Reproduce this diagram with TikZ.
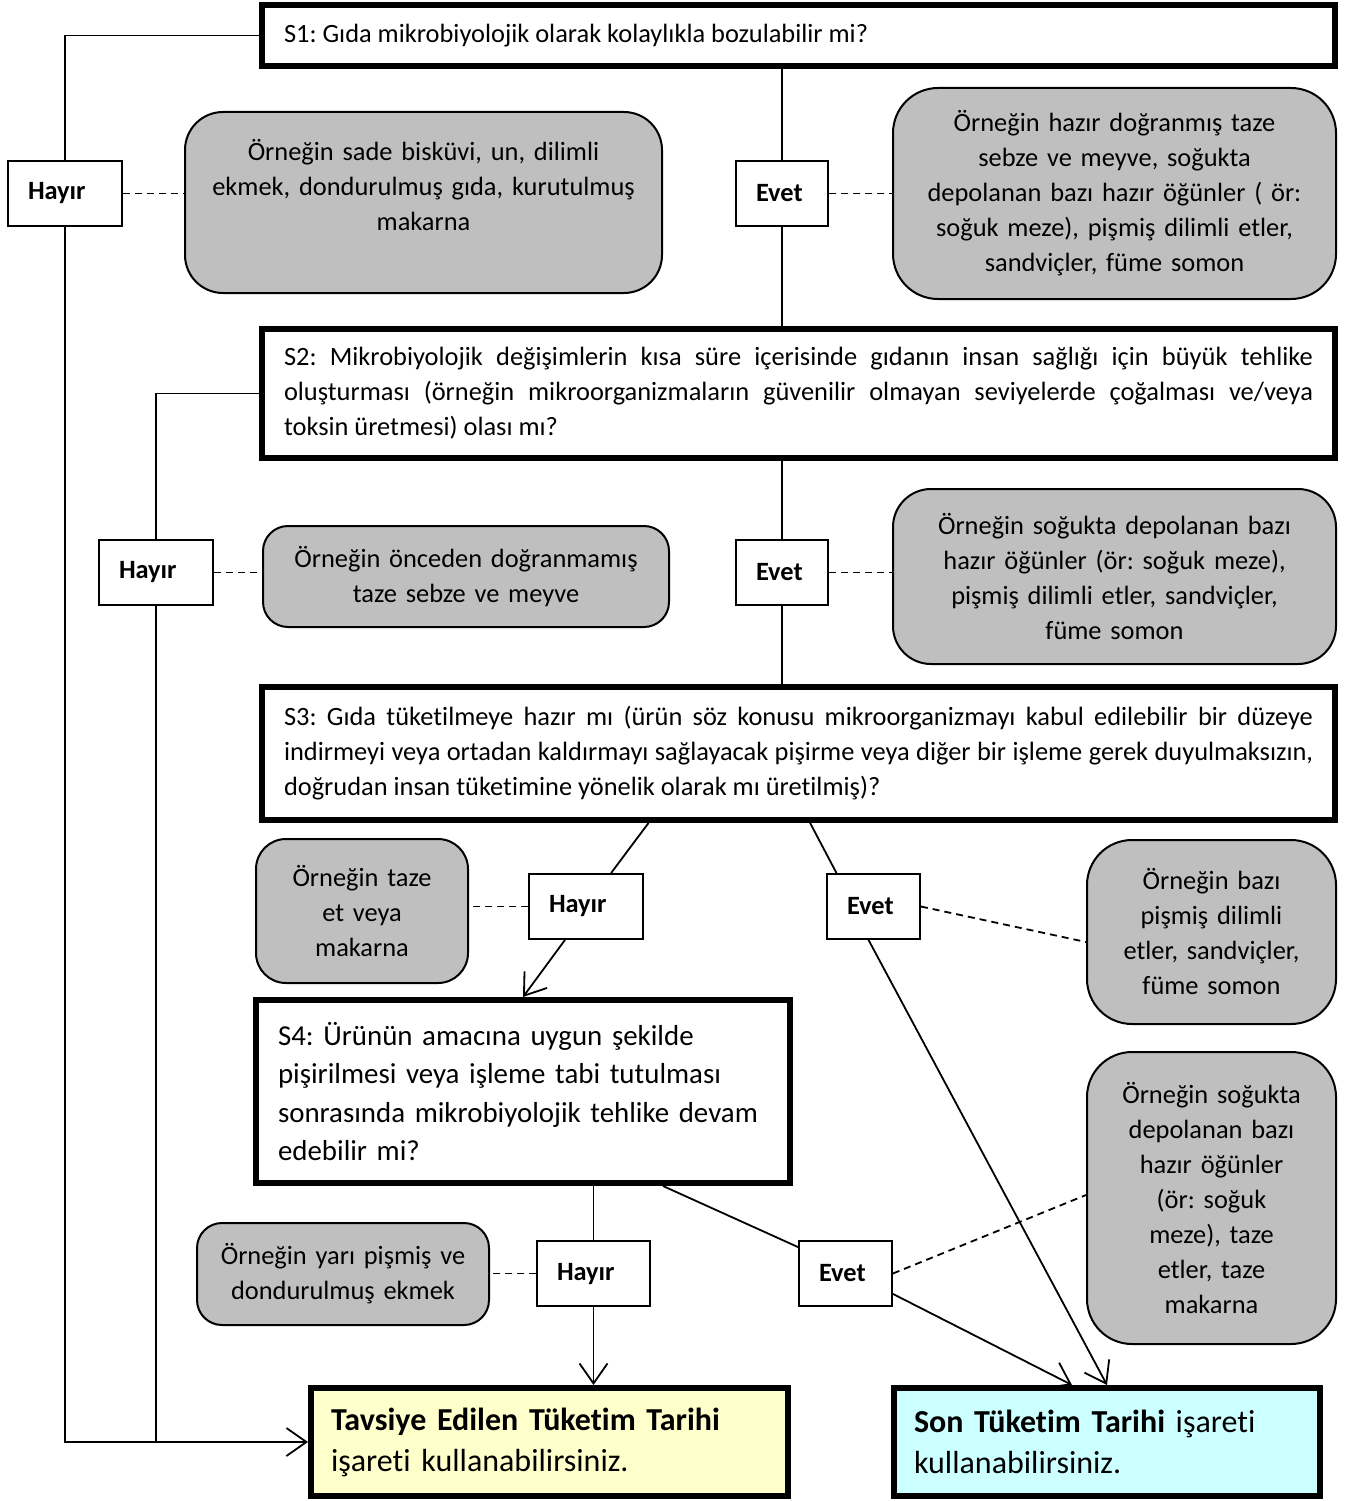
\documentclass[tikz,border=0pt]{standalone}
\usepackage{fontspec}
\setmainfont[Ligatures=NoCommon]{Carlito}
\usetikzlibrary{arrows.meta,calc}
\frenchspacing
\hyphenpenalty=10000
\exhyphenpenalty=10000
\definecolor{gri}{HTML}{BFBFBF}
\definecolor{sari}{HTML}{FFFFCC}
\definecolor{mavi}{HTML}{CCFFFF}
\tikzset{
	soru/.style={draw,line width=6pt,fill=white,inner xsep=22pt,inner ysep=0pt,align=justify,
		font=\fontsize{26.4pt}{35pt}\selectfont},
	cevap/.style={draw,line width=1.8pt,fill=white,minimum height=65pt,inner xsep=20pt,inner ysep=0pt,
		align=left,font=\fontsize{26.4pt}{35pt}\selectfont\bfseries},
	ornek/.style={draw,line width=2pt,fill=gri,rounded corners=38pt,inner sep=0pt,align=center,
		font=\fontsize{26.4pt}{35pt}\selectfont},
	sonuc/.style={draw,line width=6pt,inner xsep=20pt,inner ysep=0pt,align=left,
		font=\fontsize{32pt}{41pt}\selectfont},
	hat/.style={line width=1.8pt},
	kesik/.style={line width=1.8pt,dash pattern=on 7pt off 5pt},
	ok/.style={hat,-{Straight Barb[length=20pt,width=28pt]}},
}
\begin{document}
\begin{tikzpicture}[x=1pt,y=-1pt]
	\useasboundingbox (0,0) rectangle (1354,1501);
	\path
	(798.5,35.5) node[soru,minimum width=1073pt,minimum height=61pt,text width=1029pt] (S1)
	{S1: Gıda mikrobiyolojik olarak kolaylıkla bozulabilir mi?}          % <<< soru 1
	(798.5,393.5) node[soru,minimum width=1073pt,minimum height=129pt,text width=1029pt] (S2)
	{S2: Mikrobiyolojik değişimlerin kısa süre içerisinde gıdanın insan sağlığı için büyük tehlike\linebreak
		oluşturması (örneğin mikroorganizmaların güvenilir olmayan seviyelerde çoğalması ve/veya\linebreak
		toksin üretmesi) olası mı?}                                   % <<< soru 2
	(798.5,753.5) node[soru,minimum width=1073pt,minimum height=133pt,text width=1029pt] (S3)
	{S3: Gıda tüketilmeye hazır mı (ürün söz konusu mikroorganizmayı kabul edilebilir bir düzeye\linebreak
		indirmeyi veya ortadan kaldırmayı sağlayacak pişirme veya diğer bir işleme gerek duyulmaksızın,\linebreak
		doğrudan insan tüketimine yönelik olarak mı üretilmiş)?}      % <<< soru 3
	(523,1091.5) node[soru,align=left,minimum width=534pt,minimum height=183pt,text width=490pt,
	font=\fontsize{28.9pt}{38.5pt}\selectfont] (S4)
	{S4: Ürünün amacına uygun şekilde\\pişirilmesi veya işleme tabi tutulması\\
		sonrasında mikrobiyolojik tehlike devam\\edebilir mi?}        % <<< soru 4
	(549.5,1442) node[sonuc,fill=sari,minimum width=477pt,minimum height=108pt,text width=437pt] (T)
	{\textbf{Tavsiye Edilen Tüketim Tarihi}\\işareti kullanabilirsiniz.}
	(1107,1442) node[sonuc,fill=mavi,minimum width=426pt,minimum height=108pt,text width=386pt] (Son)
	{\textbf{Son Tüketim Tarihi} işareti\\kullanabilirsiniz.};
	% cevaplar
	\path
	(65,193.5) node[cevap,minimum width=114pt,text width=74pt] (H1) {Hayır}
	(782,193.5) node[cevap,minimum width=92pt,text width=52pt] (E1) {Evet}
	(156,572.5) node[cevap,minimum width=114pt,text width=74pt] (H2) {Hayır}
	(782,572.5) node[cevap,minimum width=92pt,text width=52pt] (E2) {Evet}
	(586,906.5) node[cevap,minimum width=114pt,text width=74pt] (H3) {Hayır}
	(873.5,906.5) node[cevap,minimum width=93pt,text width=53pt] (E3) {Evet}
	(593.5,1273.5) node[cevap,minimum width=113pt,text width=73pt] (H4) {Hayır}
	(845.5,1273.5) node[cevap,minimum width=93pt,text width=53pt] (E4) {Evet};
	% örnekler
	\path
	(423.5,202.5) node[ornek,minimum width=477pt,minimum height=181pt,text width=447pt] (G1)
	{Örneğin sade bisküvi, un, dilimli\\ekmek, dondurulmuş gıda, kurutulmuş\\makarna\\\mbox{}}
	(1114.5,193.5) node[ornek,rounded corners=45pt,minimum width=443pt,minimum height=211pt,text width=413pt] (G2)
	{Örneğin hazır doğranmış taze\\sebze ve meyve, soğukta\\depolanan bazı hazır öğünler ( ör:\\
		soğuk meze), pişmiş dilimli etler,\\sandviçler, füme somon}
	(466,576.5) node[ornek,rounded corners=25pt,minimum width=406pt,minimum height=101pt,text width=376pt] (G3)
	{Örneğin önceden doğranmamış\\taze sebze ve meyve}
	(1114.5,576.5) node[ornek,minimum width=443pt,minimum height=175pt,text width=413pt] (G4)
	{Örneğin soğukta depolanan bazı\\hazır öğünler (ör: soğuk meze),\\pişmiş dilimli etler, sandviçler,\\füme somon}
	(362,911) node[ornek,rounded corners=30pt,minimum width=212pt,minimum height=144pt,text width=182pt] (G5)
	{Örneğin taze\\et veya\\makarna}
	(1211.5,932) node[ornek,rounded corners=45pt,minimum width=249pt,minimum height=184pt,text width=219pt] (G6)
	{Örneğin bazı\\pişmiş dilimli\\etler, sandviçler,\\füme somon}
	(343,1274) node[ornek,rounded corners=25pt,minimum width=292pt,minimum height=102pt,text width=262pt] (G7)
	{Örneğin yarı pişmiş ve\\dondurulmuş ekmek}
	(1211.5,1198) node[ornek,rounded corners=45pt,minimum width=249pt,minimum height=292pt,text width=219pt] (G8)
	{Örneğin soğukta\\depolanan bazı\\hazır öğünler\\(ör: soğuk\\meze), taze\\etler, taze\\makarna};
	% hayır kolları
	\draw[hat] (S1.west) -| (H1.north);
	\draw[ok] (H1.south) |- (T.west);
	\draw[hat] (S2.west) -| (H2.north);
	\draw[hat] (H2.south) -- (H2.south |- T.west);
	% evet kolları
	\draw[hat] (E1.north |- S1.south) -- (E1.north);
	\draw[hat] (E1.south) -- (E1.south |- S2.north);
	\draw[hat] (E2.north |- S2.south) -- (E2.north);
	\draw[hat] (E2.south) -- (E2.south |- S3.north);
	\draw[hat] ($(S3.south)+(-150,0)$) -- ($(H3.north)+(25,0)$);
	\draw[ok] ($(H3.south)+(-21,0)$) -- (S4.north);
	\draw[hat] ($(S3.south)+(9,-5)$) -- ($(E3.north)+(-37,0)$);
	\draw[ok] ($(E3.south)+(-5,0)$) -- (Son.north);
	\draw[hat] (H4.north |- S4.south) -- (H4.north);
	\draw[ok] (H4.south) -- (H4.south |- T.north);
	\draw[hat] ($(S4.south)+(140,0)$) -- ($(E4.north west)+(0,7)$);
	\draw[ok] ($(E4.south east)+(0,-13)$) -- ($(Son.north)+(-35,0)$);
	% kesik çizgiler
	\draw[kesik] (H1.east) -- (H1.east -| G1.west);
	\draw[kesik] (E1.east) -- (E1.east -| G2.west);
	\draw[kesik] (H2.east) -- (H2.east -| G3.west);
	\draw[kesik] (E2.east) -- (E2.east -| G4.west);
	\draw[kesik] (H3.west) -- (H3.west -| G5.east);
	\draw[kesik] (E3.east) -- ($(G6.west)+(0,10)$);
	\draw[kesik] (H4.west) -- (H4.west -| G7.east);
	\draw[kesik] (E4.east) -- ($(G8.west)+(0,-3)$);
\end{tikzpicture}
\end{document}
